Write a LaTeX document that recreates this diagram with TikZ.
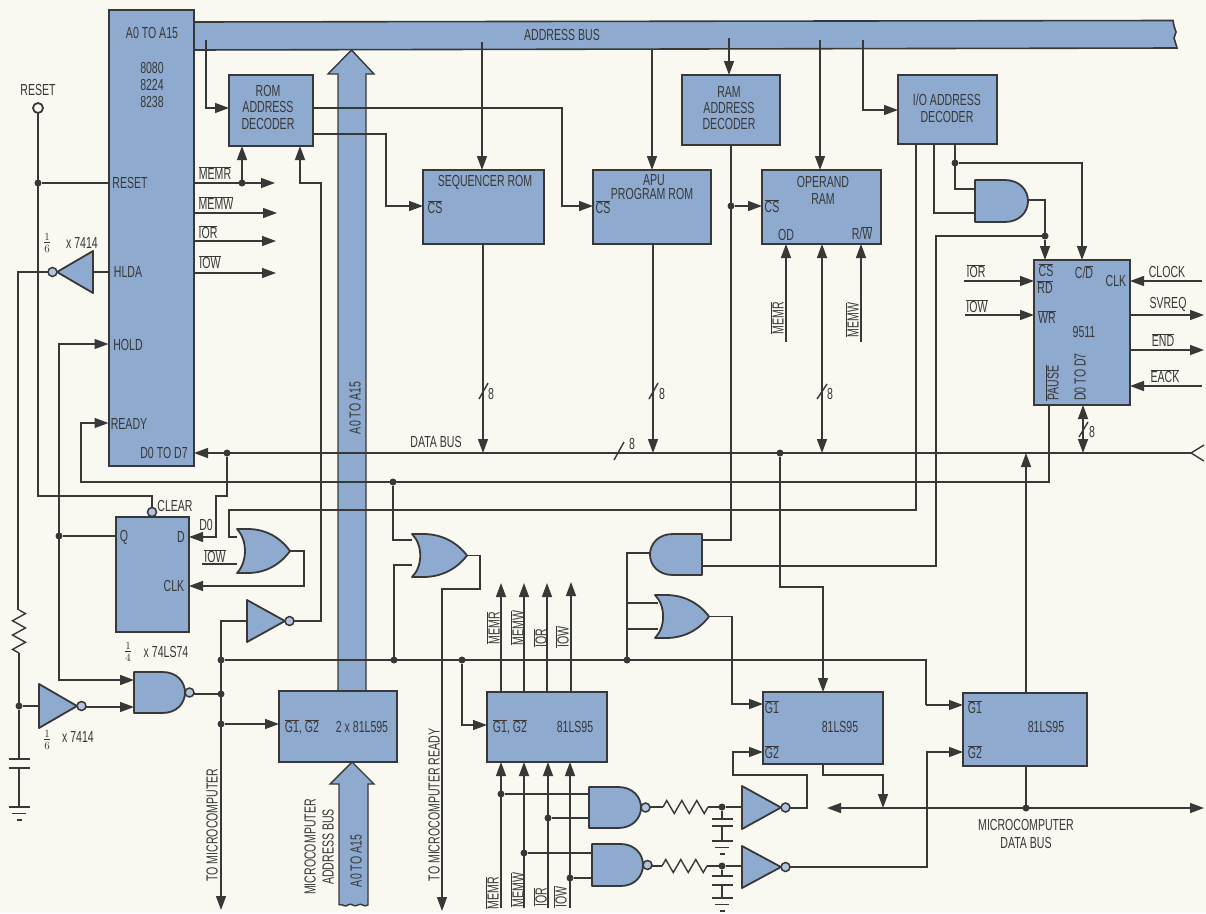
\documentclass[tikz,border=0pt]{standalone}
\usepackage{fontspec}
\setmainfont{Liberation Sans}[FakeStretch=0.66]
\usetikzlibrary{arrows.meta}
\definecolor{paper}{HTML}{F9F8F1}
\definecolor{chip}{HTML}{8EABCF}
\definecolor{ink}{HTML}{383838}
\newcounter{tc}
\tikzset{
  w/.style={draw=ink,line width=1.4pt},
  >={Triangle[length=14pt,width=10pt]},
  boxst/.style={draw=ink,fill=chip,line width=2pt,rectangle,inner sep=0pt,outer sep=0pt},
  gatest/.style={draw=ink,fill=chip,line width=1.8pt,line join=round},
  ghost/.style={rectangle,inner sep=0pt,outer sep=0pt},
  dot/.style={circle,fill=ink,inner sep=0pt,outer sep=0pt,minimum size=7pt},
  bubble/.style={circle,draw=ink,fill=chip!70!white,line width=1.5pt,inner sep=0pt,outer sep=0pt,minimum size=9pt},
  lbl/.style={inner sep=0pt,outer sep=0pt,text=ink,font=\fontsize{16}{16}\selectfont},
  vl/.style={rotate=90},
}
\newcommand\ol[1]{\ensuremath{\overline{\mbox{#1}}}}
\newcommand\lab[4][]{\stepcounter{tc}\node[lbl,#1] (t\thetc) at (#2,#3) {#4};}
\newcommand\bxx[5]{\pgfmathsetmacro\gbw{#4-#2}\pgfmathsetmacro\gbh{#5-#3}\pgfmathsetmacro\gbx{(#2+#4)/2}\pgfmathsetmacro\gby{(#3+#5)/2}%
  \node[boxst,minimum width=\gbw pt,minimum height=\gbh pt] (#1) at (\gbx,\gby) {};}
\newcommand\gghost[5]{\pgfmathsetmacro\gbw{abs(#4)}\pgfmathsetmacro\gbx{#2+(#4)/2}\pgfmathsetmacro\gby{#3+(#5)/2}%
  \node[ghost,minimum width=\gbw pt,minimum height=#5 pt] (#1) at (\gbx,\gby) {};}
\newcommand\gand[5]{\gghost{#1}{#2}{#3}{#4}{#5}%
  \begin{scope}[shift={(#2,#3)},xscale=#4,yscale=#5]
  \draw[gatest] (0,0) -- (.56,0) .. controls (.84,0) and (1,.24) .. (1,.5) .. controls (1,.76) and (.84,1) .. (.56,1) -- (0,1) -- cycle;
  \end{scope}}
\newcommand\gor[5]{\gghost{#1}{#2}{#3}{#4}{#5}%
  \begin{scope}[shift={(#2,#3)},xscale=#4,yscale=#5]
  \draw[gatest] (0,0) -- (.2,0) .. controls (.55,0) and (.82,.2) .. (1,.5) .. controls (.82,.8) and (.55,1) .. (.2,1) -- (0,1) .. controls (.2,.75) and (.2,.25) .. (0,0) -- cycle;
  \end{scope}}
\newcommand\ginv[5]{\gghost{#1}{#2}{#3}{#4}{#5}%
  \begin{scope}[shift={(#2,#3)},xscale=#4,yscale=#5]
  \draw[gatest] (0,0) -- (1,.5) -- (0,1) -- cycle;
  \end{scope}
  \pgfmathsetmacro\gbx{#2+#4+4.5*sign(#4)}\pgfmathsetmacro\gby{#3+(#5)/2}%
  \node[bubble] (#1-b) at (\gbx,\gby) {};}
\newcommand\gnand[5]{\gand{#1}{#2}{#3}{#4}{#5}%
  \pgfmathsetmacro\gbx{#2+#4+4.5}\pgfmathsetmacro\gby{#3+(#5)/2}%
  \node[bubble] (#1-b) at (\gbx,\gby) {};}
\newcommand\resh[3]{\begin{scope}[shift={(#1,#3)},xscale=#2,yscale=6.5]
  \draw[w] (0,0) -- (.083,-1) -- (.25,1) -- (.417,-1) -- (.583,1) -- (.75,-1) -- (.917,1) -- (1,0);
  \end{scope}}
\newcommand\resv[3]{\begin{scope}[shift={(#1,#2)},xscale=6.5,yscale=#3]
  \draw[w] (0,0) -- (1,.083) -- (-1,.25) -- (1,.417) -- (-1,.583) -- (1,.75) -- (-1,.917) -- (0,1);
  \end{scope}}
\newcommand\gnds[2]{\begin{scope}[shift={(#1,#2)}]
  \draw[w,line width=1.6pt] (-10.5,0) -- (10.5,0) (-7,6.5) -- (7,6.5) (-2.5,13) -- (2.5,13);
  \end{scope}}
\newcommand\capv[3]{\draw[w,line width=1.6pt] (#1-10.5,#2) -- (#1+10.5,#2) (#1-10.5,#3) -- (#1+10.5,#3);}
\begin{document}
\begin{tikzpicture}[x=1pt,y=-1pt]
\fill[paper] (0,0) rectangle (1206,913);
\useasboundingbox (0,0) rectangle (1206,913);

% ---- buses
\path[fill=chip] (190,22) -- (1173,20.5) -- (1174,26) -- (1176,32) -- (1174,38) -- (1176,48) -- (190,50) -- cycle;
\draw[w,line width=1.6pt] (190,22) -- (1173,20.5) -- (1174,26) -- (1176,32) -- (1174,38) -- (1177,48) -- (190,50);
\draw[gatest,line width=1.4pt,line join=miter] (338,700) -- (338,74) -- (328,74) -- (351.5,50) -- (374,74) -- (366,74) -- (366,700);
\draw[gatest,line width=1.4pt,line join=miter] (339,905) -- (339,784) -- (330,784) -- (352,762) -- (374,784) -- (368,784) -- (368,905) .. controls (364,908) and (361,902) .. (358,905) .. controls (354,908) and (351,902) .. (348,905) .. controls (345,908) and (342,903) .. (339,905);

% ---- named points
\node[circle,draw=ink,line width=1.8pt,fill=paper,minimum size=10pt,inner sep=0pt,outer sep=0pt] (rstc) at (38,108) {};
\node[dot] (jRst) at (38,183) {};
\node[dot] (jMem) at (242,183) {};
\node[dot] (jD) at (227,453) {};
\node[dot] (jRdy) at (393,482) {};
\node[dot] (jQ) at (59,536) {};
\node[dot] (jG) at (221,660) {};
\node[dot] (jN) at (221,694) {};
\node[dot] (jE) at (221,724) {};
\node[dot] (jOr) at (394,660) {};
\node[dot] (jLS) at (462,660) {};
\node[dot] (jA) at (627,660) {};
\node[dot] (jDB) at (780,453) {};
\node[dot] (jCS) at (731,206) {};
\node[dot] (jIO) at (955,163) {};
\node[dot] (jCN) at (1045,236) {};
\node[dot] (jMD) at (1026,808) {};
\node[dot] (jR) at (19,706) {};
\node[dot] (jL1) at (501,794) {};
\node[dot] (jL2) at (524,853) {};
\node[dot] (jL3) at (548,818) {};
\node[dot] (jL4) at (570,878) {};
\node[dot] (jC1) at (722,807) {};
\node[dot] (jC2) at (722,866) {};
\coordinate (tROM) at (206,40);
\coordinate (tSEQ) at (482,42);
\coordinate (tAPU) at (652,49);
\coordinate (tRAM) at (729,38);
\coordinate (tOP) at (820,40);
\coordinate (tIO) at (863,40);

% ---- boxes
\bxx{cpu}{108.5}{10}{194}{466}
\bxx{rom}{229}{75}{313}{146}
\bxx{seq}{423}{170}{544}{244}
\bxx{apu}{593}{170}{711}{244}
\bxx{ramd}{682}{75}{780}{145}
\bxx{opr}{762}{170}{881}{244}
\bxx{iod}{898}{75}{997}{144}
\bxx{ic}{1034}{260}{1130}{405}
\bxx{ff}{116}{517}{189}{632}
\bxx{two}{279}{691}{397}{762}
\bxx{lsa}{487}{692}{607}{762}
\bxx{lsb}{763}{692}{883}{764}
\bxx{lsc}{963}{693}{1087}{766}

\gghost{or1}{237}{529}{53}{44}
\gghost{or2}{412}{534}{55}{43}
\gghost{or3}{655}{595}{54}{43}
\gghost{an1}{702}{534}{-52}{41}
\gghost{an2}{975}{180}{53}{42}

% ---- wires
\draw[w,->] (tROM) |- (rom.west |- 0,108);
\draw[w,->] (tSEQ) -- (tSEQ |- seq.north);
\draw[w,->] (tAPU) -- (tAPU |- apu.north);
\draw[w,->] (tRAM) -- (tRAM |- ramd.north);
\draw[w,->] (tOP) -- (tOP |- opr.north);
\draw[w,->] (tIO) |- (iod.west |- 0,110);
\draw[w,->] (rom.east |- 0,108) -- (562,108) -- (562,206) -- (apu.west |- 0,206);
\draw[w,->] (rom.east |- 0,134) -- (386,134) -- (386,206) -- (seq.west |- 0,206);
\draw[w] (rstc) -- (38,496) -- (152,496) -- (152,512);
\draw[w] (jRst) -- (cpu.west |- jRst);
\draw[w,->] (cpu.east |- jMem) -- (275,183);
\draw[w,->] (jMem) -- (jMem |- rom.south);
\draw[w,->] (cpu.east |- 0,213) -- (277,213);
\draw[w,->] (cpu.east |- 0,241) -- (276,241);
\draw[w,->] (cpu.east |- 0,273) -- (276,273);
\draw[w,->] (290,621) -- (321,621) -- (321,183) -- (300,183) -- (300,146);
\draw[w] (cpu.west |- 0,272) -- (93,272);
\draw[w] (51,272) -- (18,272) -- (18,610);
\draw[w] (19,653) -- (jR) -- (19,759);
\draw[w] (19,768) -- (19,807);
\draw[w,<->] (cpu.west |- 0,344) -- (59,344) -- (59,680) -- (134,680);
\draw[w] (jQ) -- (ff.west |- jQ);
\draw[w] (jR) -- (39,706);
\draw[w,->] (82,707) -- (134,707);
\draw[w] (185,694) -- (jN);
\draw[w,->] (247,621) -- (221,621) -- (221,910);
\draw[w] (jG) -- (926,660) -- (926,705);
\draw[w,->] (926,705) -- (lsc.west |- 0,705);
\draw[w,->] (jE) -- (two.west |- jE);
\draw[w,->] (1191,453) -- (cpu.east |- 0,453);
\draw[w,line join=miter] (1204,445) -- (1191,453) -- (1204,461);
\draw[w,->] (1049,405) -- (1049,482) -- (81,482) -- (81,423) -- (cpu.west |- 0,423);
\draw[w,->] (jD) -- (227,496) -- (216,496) -- (216,537) -- (ff.east |- 0,537);
\draw[w] (iod.south -| 916,0) -- (916,510) -- (229,510) -- (229,537) -- (or1.west |- 0,537);
\draw[w] (202,564) -- (or1.west |- 0,564);
\draw[w,->] (or1.east) -- (304,551) -- (304,586) -- (ff.east |- 0,586);
\draw[w] (jRdy) |- (or2.west |- 0,540);
\draw[w] (jOr) |- (or2.west |- 0,565);
\draw[w,->] (or2.east) -- (480,555.5) -- (480,589) -- (442,589) -- (442,911);
\draw[w,->] (seq.south -| 483,0) -- (483,453);
\draw[w,->] (apu.south -| 653,0) -- (653,453);
\draw[w,<->] (opr.south -| 822,0) -- (822,453);
\draw[w,->] (786,342) -- (786,244);
\draw[w,->] (861,342) -- (861,244);
\draw[w] (ramd.south) -- (731,540) -- (702,540);
\draw[w,->] (jCS) -- (opr.west |- jCS);
\draw[w] (650,553) -- (627,553) -- (jA);
\draw[w] (627,603) -- (658,603);
\draw[w] (627,629) -- (658,629);
\draw[w] (702,566) -- (936,566) -- (936,236) -- (jCN);
\draw[w,->] (or3.east) -- (732,616.5) -- (732,704) -- (lsb.west |- 0,704);
\draw[w,->] (jDB) -- (780,587) -- (823,587) -- (823,692);
\draw[w,->] (823,764) -- (823,775) -- (883,775) -- (883,808);
\draw[w,<->] (827,808) -- (1204,808);
\draw[w] (jMD) -- (jMD |- lsc.south);
\draw[w,->] (1026,693) -- (1026,453);
\draw[w,->] (jLS) -- (462,725) -- (lsa.west |- 0,725);
\draw[w,->] (501,692) -- (501,583);
\draw[w,->] (524,692) -- (524,583);
\draw[w,->] (547,692) -- (547,583);
\draw[w,->] (571,692) -- (571,582);
\draw[w,->] (501,908) -- (501,762);
\draw[w,->] (524,908) -- (524,762);
\draw[w,->] (548,908) -- (548,762);
\draw[w,->] (570,908) -- (570,762);
\draw[w] (jL1) -- (589,794);
\draw[w] (jL3) -- (589,818);
\draw[w] (jL2) -- (592,853);
\draw[w] (jL4) -- (592,878);
\draw[w] (645,807) -- (663,807);
\draw[w] (708,807) -- (jC1) -- (742,807);
\draw[w] (jC1) -- (722,819);
\draw[w] (722,826) -- (722,841);
\draw[w] (647,866) -- (662,866);
\draw[w] (707,866) -- (jC2) -- (742,866);
\draw[w] (jC2) -- (722,876);
\draw[w] (722,885) -- (722,898);
\draw[w,->] (785,808) -- (807,808) -- (807,775) -- (733,775) -- (733,752) -- (lsb.west |- 0,752);
\draw[w,->] (785,867) -- (927,867) -- (927,752) -- (lsc.west |- 0,752);
\draw[w] (an2.east |- 0,200) -- (1045,200) -- (jCN);
\draw[w,->] (jCN) -- (1045,260);
\draw[w] (955,144) -- (955,189) -- (975,189);
\draw[w,->] (jIO) -- (1082,163) -- (1082,260);
\draw[w] (934,144) -- (934,213) -- (975,213);
\draw[w,->] (964,281) -- (1034,281);
\draw[w,->] (965,315) -- (1034,315);
\draw[w,->] (1202,281) -- (1130,281);
\draw[w,->] (1130,315) -- (1204,315);
\draw[w,->] (1130,350) -- (1204,350);
\draw[w,->] (1202,386) -- (1130,386);
\draw[w,<->] (1083,405) -- (1083,453);

% slashes
\draw[w] (479,399) -- (488,383);
\draw[w] (649,399) -- (658,383);
\draw[w] (817,399) -- (827,384);
\draw[w] (614,460) -- (624,442);
\draw[w] (1079,437) -- (1088,422);

% ---- boxes again, above the wires
\bxx{cpu}{108.5}{10}{194}{466}
\bxx{rom}{229}{75}{313}{146}
\bxx{seq}{423}{170}{544}{244}
\bxx{apu}{593}{170}{711}{244}
\bxx{ramd}{682}{75}{780}{145}
\bxx{opr}{762}{170}{881}{244}
\bxx{iod}{898}{75}{997}{144}
\bxx{ic}{1034}{260}{1130}{405}
\bxx{ff}{116}{517}{189}{632}
\bxx{two}{279}{691}{397}{762}
\bxx{lsa}{487}{692}{607}{762}
\bxx{lsb}{763}{692}{883}{764}
\bxx{lsc}{963}{693}{1087}{766}

% ---- gates
\gor{or1}{237}{529}{53}{44}
\gor{or2}{412}{534}{55}{43}
\gor{or3}{655}{595}{54}{43}
\gand{an1}{702}{534}{-52}{41}
\gand{an2}{975}{180}{53}{42}
\gnand{na1}{134}{672}{51}{41}
\gnand{na2}{589}{787}{52}{41}
\gnand{na3}{592}{844}{51}{42}
\ginv{in1}{93}{251}{-36}{42}
\ginv{in2}{39}{684}{38}{44}
\ginv{in3}{247}{600}{38}{42}
\ginv{in4}{742}{786}{39}{43}
\ginv{in5}{742}{846}{39}{42}
\node[bubble] (clr) at (152,512) {};

% ---- passive parts
\resv{19}{610}{43}
\resh{663}{45}{807}
\resh{662}{45}{866}
\capv{19}{759}{768}
\gnds{19}{807}
\capv{722}{819}{826}
\gnds{722}{841}
\capv{722}{876}{885}
\gnds{722}{898}

% ---- labels
\lab{38}{90}{RESET}
\lab{152}{33}{A0 TO A15}
\lab{152}{68}{8080}
\lab{152}{85}{8224}
\lab{152}{102}{8238}
\lab{130}{183}{RESET}
\lab{128}{272}{HLDA}
\lab{128}{345}{HOLD}
\lab{129}{424}{READY}
\lab{164}{453}{D0 TO D7}
\lab{215}{173}{\ol{MEMR}}
\lab{216}{203}{\ol{MEMW}}
\lab{208}{232}{\ol{IOR}}
\lab{210}{262}{\ol{IOW}}
\lab{47}{243}{$\frac{1}{6}$}
\lab{82}{243}{x 7414}
\lab{268}{91}{ROM}
\lab{268}{107}{ADDRESS}
\lab{268}{124}{DECODER}
\lab{562}{35}{ADDRESS BUS}
\lab{485}{182}{SEQUENCER ROM}
\lab{435}{207}{\ol{CS}}
\lab{654}{180}{APU}
\lab{652}{194}{PROGRAM ROM}
\lab{603}{207}{\ol{CS}}
\lab{729}{92}{RAM}
\lab{729}{108}{ADDRESS}
\lab{729}{124}{DECODER}
\lab{772}{206}{\ol{CS}}
\lab{823}{182}{OPERAND}
\lab{823}{199}{RAM}
\lab{786}{235}{OD}
\lab{862}{233}{R/\ol{W}}
\lab{947}{100}{I/O ADDRESS}
\lab{947}{117}{DECODER}
\lab[vl]{777}{318}{\ol{MEMR}}
\lab[vl]{852}{320}{\ol{MEMW}}
\lab{976}{271}{\ol{IOR}}
\lab{977}{306}{\ol{IOW}}
\lab{1046}{270}{\ol{CS}}
\lab{1045}{287}{\ol{RD}}
\lab{1047}{317}{\ol{WR}}
\lab{1084}{272}{C/\ol{D}}
\lab{1116}{281}{CLK}
\lab{1084}{332}{9511}
\lab[vl]{1052}{383}{\ol{PAUSE}}
\lab[vl]{1080}{377}{D0 TO D7}
\lab{1167}{272}{CLOCK}
\lab{1168}{304}{SVREQ}
\lab{1163}{340}{\ol{END}}
\lab{1165}{376}{\ol{EACK}}
\lab{1092}{432}{8}
\lab{436}{442}{DATA BUS}
\lab{491}{394}{8}
\lab{662}{394}{8}
\lab{632}{444}{8}
\lab{830}{394}{8}
\lab{175}{506}{CLEAR}
\lab{206}{525}{D0}
\lab{124}{537}{Q}
\lab{181}{537}{D}
\lab{174}{586}{CLK}
\lab{215}{556}{\ol{IOW}}
\lab{128}{652}{$\frac{1}{4}$}
\lab{166}{652}{x 74LS74}
\lab{47}{740}{$\frac{1}{6}$}
\lab{78}{737}{x 7414}
\lab[vl]{355}{408}{A0 TO A15}
\lab[vl]{356}{861}{A0 TO A15}
\lab[vl]{310}{847}{MICROCOMPUTER}
\lab[vl]{328}{847}{ADDRESS BUS}
\lab[vl]{212}{825}{TO MICROCOMPUTER}
\lab[vl]{434}{805}{TO MICROCOMPUTER READY}
\lab{302}{727}{\ol{G1}, \ol{G2}}
\lab{362}{727}{2 x 81L595}
\lab{510}{727}{\ol{G1}, \ol{G2}}
\lab{575}{727}{81LS95}
\lab{772}{707}{\ol{G1}}
\lab{772}{752}{\ol{G2}}
\lab{840}{727}{81LS95}
\lab{975}{707}{\ol{G1}}
\lab{975}{752}{\ol{G2}}
\lab{1046}{727}{81LS95}
\lab{1026}{825}{MICROCOMPUTER}
\lab{1026}{843}{DATA BUS}
\lab[vl]{493}{628}{\ol{MEMR}}
\lab[vl]{517}{628}{\ol{MEMW}}
\lab[vl]{540}{638}{\ol{IOR}}
\lab[vl]{562}{637}{\ol{IOW}}
\lab[vl]{492}{893}{\ol{MEMR}}
\lab[vl]{517}{890}{\ol{MEMW}}
\lab[vl]{540}{897}{\ol{IOR}}
\lab[vl]{560}{897}{\ol{IOW}}
\end{tikzpicture}
\end{document}
